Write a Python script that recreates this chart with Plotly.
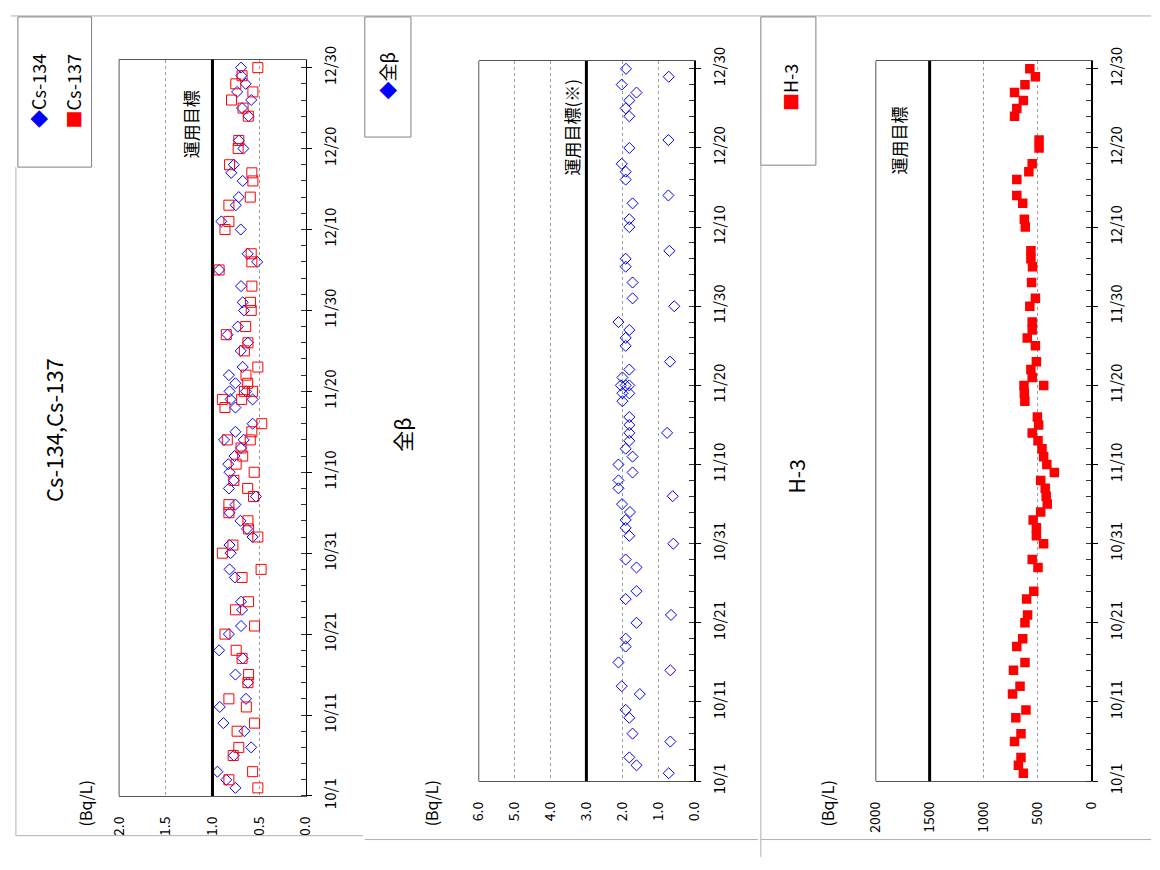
import plotly.graph_objects as go

# ---------------- data ----------------
cs_dates = ["10/02","10/03","10/04","10/06","10/07","10/09","10/10","10/12","10/13","10/15",
            "10/16","10/18","10/19","10/21","10/22","10/24","10/25","10/28","10/29","10/31",
            "11/01","11/02","11/03","11/04","11/05","11/06","11/07","11/08","11/09","11/10",
            "11/11","11/12","11/13","11/14","11/14","11/15","11/16","11/18","11/19","11/19",
            "11/20","11/20","11/21","11/22","11/23","11/25","11/26","11/27","11/28","11/30",
            "12/01","12/03","12/05","12/06","12/07","12/10","12/11","12/13","12/14","12/16",
            "12/17","12/18","12/20","12/21","12/24","12/25","12/26","12/27","12/28","12/29","12/30"]
cs134 = [0.754,0.852,0.947,0.771,0.585,0.658,0.883,0.922,0.641,0.620,
         0.754,0.676,0.929,0.824,0.694,0.683,0.694,0.760,0.817,0.806,
         0.817,0.570,0.630,0.700,0.817,0.754,0.535,0.824,0.771,0.817,
         0.831,0.764,0.694,0.876,0.665,0.754,0.570,0.754,0.806,0.570,
         0.817,0.641,0.754,0.824,0.676,0.697,0.620,0.838,0.729,0.662,
         0.676,0.694,0.929,0.521,0.623,0.697,0.905,0.750,0.718,0.676,
         0.799,0.771,0.669,0.718,0.613,0.683,0.585,0.736,0.644,0.690,0.694]
cs137 = [0.514,0.824,0.570,0.778,0.718,0.736,0.549,0.637,0.824,0.620,
         0.613,0.683,0.746,0.866,0.549,0.754,0.613,0.683,0.479,0.894,
         0.781,0.514,0.613,0.620,0.824,0.824,0.560,0.623,0.771,0.553,
         0.746,0.676,0.694,0.841,0.595,0.578,0.472,0.866,0.894,0.687,
         0.658,0.570,0.623,0.641,0.514,0.658,0.620,0.852,0.644,0.585,
         0.592,0.578,0.929,0.578,0.585,0.866,0.824,0.824,0.595,0.567,
         0.578,0.817,0.725,0.718,0.616,0.672,0.796,0.567,0.750,0.683,0.514]

beta_dates = ["10/02","10/03","10/04","10/06","10/07","10/09","10/10","10/12","10/13","10/15",
              "10/16","10/18","10/19","10/21","10/22","10/24","10/25","10/28","10/29","10/31",
              "11/01","11/02","11/03","11/04","11/05","11/06","11/07","11/08","11/09","11/10",
              "11/11","11/12","11/13","11/14","11/14","11/15","11/16","11/18","11/19","11/19",
              "11/20","11/20","11/20","11/21","11/22","11/23","11/25","11/26","11/27","11/28",
              "11/30","12/01","12/03","12/05","12/06","12/07","12/10","12/11","12/13","12/14",
              "12/16","12/17","12/18","12/20","12/21","12/24","12/25","12/26","12/27","12/28",
              "12/29","12/30"]
beta = [0.705,1.603,1.804,0.660,1.713,1.804,1.905,1.511,2.015,0.660,
        2.106,1.905,1.905,1.603,0.641,1.905,1.603,1.603,1.905,0.577,
        1.804,1.905,1.905,1.786,2.006,0.595,2.106,2.106,1.713,2.106,
        1.713,1.905,1.804,1.804,0.751,1.804,1.804,1.996,1.996,1.804,
        2.040,1.905,1.804,1.996,1.804,0.669,1.905,1.905,1.804,2.106,
        0.550,1.713,1.713,1.905,1.905,0.687,1.804,1.804,1.713,0.714,
        1.905,1.905,2.015,1.804,0.714,1.804,1.905,1.804,1.603,2.015,
        0.705,1.896]

h3_dates = ["10/02","10/03","10/04","10/06","10/07","10/09","10/10","10/12","10/13","10/15",
            "10/16","10/18","10/19","10/21","10/22","10/24","10/25","10/28","10/29","10/31",
            "11/01","11/02","11/03","11/04","11/05","11/06","11/07","11/08","11/09","11/10",
            "11/11","11/12","11/13","11/14","11/15","11/16","11/18","11/19","11/20","11/20",
            "11/21","11/22","11/23","11/25","11/26","11/27","11/28","11/30","12/01","12/03",
            "12/05","12/06","12/07","12/10","12/11","12/13","12/14","12/16","12/17","12/18",
            "12/20","12/21","12/24","12/25","12/26","12/27","12/28","12/29","12/30"]
h3 = [629,675,651,711,651,699,605,730,660,721,
      614,690,635,614,590,599,532,493,547,441,
      508,508,538,468,407,417,426,468,341,411,
      441,456,493,547,487,499,615,620,623,440,
      547,559,508,517,593,547,547,569,517,553,
      544,559,559,611,620,635,690,690,578,547,
      483,483,711,690,629,711,614,517,569]

date_ticks = ["10/1","10/11","10/21","10/31","11/10","11/20","11/30","12/10","12/20","12/30"]
cs_ticks = [0.0, 0.5, 1.0, 1.5, 2.0]
beta_ticks = [0.0, 1.0, 2.0, 3.0, 4.0, 5.0, 6.0]
h3_ticks = [0, 500, 1000, 1500, 2000]
targets = [1.0, 3.0, 1500]

YEAR = "2024"
def iso(md):
    m, d = md.split("/")
    return f"{YEAR}-{int(m):02d}-{int(d):02d}"

W, H = 1160, 870
def px(x): return x / W
def py(y): return 1 - y / H

FONT = "Noto Sans CJK JP"
fig = go.Figure()

fig.add_trace(go.Scatter(x=cs134, y=[iso(d) for d in cs_dates], mode="markers", name="Cs-134",
                         marker=dict(symbol="diamond-open", size=8.5, color="#0000FF", line=dict(width=1)),
                         xaxis="x", yaxis="y"))
fig.add_trace(go.Scatter(x=cs137, y=[iso(d) for d in cs_dates], mode="markers", name="Cs-137",
                         marker=dict(symbol="square-open", size=10, color="#FF0000", line=dict(width=1)),
                         xaxis="x", yaxis="y"))
fig.add_trace(go.Scatter(x=beta, y=[iso(d) for d in beta_dates], mode="markers", name="全β",
                         marker=dict(symbol="diamond-open", size=8.5, color="#0000FF", line=dict(width=1)),
                         xaxis="x2", yaxis="y2"))
fig.add_trace(go.Scatter(x=h3, y=[iso(d) for d in h3_dates], mode="markers", name="H-3",
                         marker=dict(symbol="square", size=9.5, color="#FF0000", line=dict(width=0)),
                         xaxis="x3", yaxis="y3"))

panels = [
    # (left, right, top, bottom, ticks, fmt)
    (110, 300, 47, 807, cs_ticks, lambda v: f"{v:.1f}"),
    (476, 695, 48.4, 791.7, beta_ticks, lambda v: f"{v:.1f}"),
    (880, 1099, 48.4, 791.7, h3_ticks, lambda v: f"{v:d}"),
]
tickvals_dates = [iso(d) for d in date_ticks]
layout_axes = {}
for i, (l, r, t, b, ticks, fmt) in enumerate(panels):
    sfx = "" if i == 0 else str(i + 1)
    layout_axes["xaxis" + sfx] = dict(
        domain=[px(l), px(r)], anchor="y" + sfx, range=[ticks[-1], ticks[0]],
        tickvals=ticks, ticktext=[fmt(v) for v in ticks], tickangle=-90,
        showgrid=True, gridcolor="#9a9a9a", griddash="dot", gridwidth=1,
        zeroline=False, showline=True, linecolor="#555555", linewidth=1, mirror=True,
        ticks="", ticklabelstandoff=14, tickfont=dict(family=FONT, size=14, color="black"),
        fixedrange=True)
    layout_axes["yaxis" + sfx] = dict(
        domain=[py(b), py(t)], anchor="x" + sfx, side="right", type="date",
        range=[iso("10/1"), iso("12/31")], tickvals=tickvals_dates, ticktext=date_ticks,
        tickangle=-90, ticks="outside", ticklen=5, tickcolor="black", tickwidth=1,
        minor=dict(ticks="inside", ticklen=5, tickcolor="#333333", dtick=2 * 86400000,
                   tick0=iso("10/1"), showgrid=False),
        showgrid=False, zeroline=False, showline=True, linecolor="black", linewidth=1.5,
        ticklabelstandoff=6, tickfont=dict(family=FONT, size=15, color="black"),
        fixedrange=True)

shapes = []
for i, tv in enumerate(targets):
    sfx = "" if i == 0 else str(i + 1)
    shapes.append(dict(type="line", xref="x" + sfx, yref="y" + sfx + " domain", x0=tv, x1=tv,
                       y0=0, y1=1, line=dict(color="black", width=3)))
    l, r, t, b, _, _ = panels[i]
    shapes.append(dict(type="line", xref="paper", yref="paper", x0=px(l), x1=px(l),
                       y0=py(b), y1=py(t), line=dict(color="#555555", width=1)))

# frame lines
frame = [((0, 2), (1160, 2)), ((5, 158), (5, 848)), ((5, 848), (358, 848)),
         ((360, 852), (760, 852)), ((763, 156), (763, 870)), ((763, 852), (1160, 852))]
for (x0, y0), (x1, y1) in frame:
    shapes.append(dict(type="line", xref="paper", yref="paper", x0=px(x0), y0=py(y0),
                       x1=px(x1), y1=py(y1), line=dict(color="#b0b0b0", width=1)))
# legend boxes
for (x0, y0, x1, y1) in [(7, 3, 82, 158), (360, 3, 407, 127), (763, 3, 819, 156)]:
    shapes.append(dict(type="rect", xref="paper", yref="paper", x0=px(x0), y0=py(y1),
                       x1=px(x1), y1=py(y0), line=dict(color="#808080", width=1),
                       fillcolor="white"))

def rot(text, x, y, size, color="black"):
    return dict(text=text, x=px(x), y=py(y), xref="paper", yref="paper", showarrow=False,
                textangle=-90, xanchor="center", yanchor="middle",
                font=dict(family=FONT, size=size, color=color))

annotations = [
    rot("Cs-134,Cs-137", 42, 429, 22),
    rot("全β", 397, 434, 21),
    rot("H-3", 799, 477, 21),
    rot("運用目標", 183, 114, 17),
    rot("運用目標(※)", 570, 117, 17),
    rot("運用目標", 904, 130, 17),
    rot("(Bq/L)", 75, 815, 16),
    rot("(Bq/L)", 427, 815, 16),
    rot("(Bq/L)", 830, 815, 16),
    rot('<span style="color:#0000FF">◆</span>Cs-134', 27, 80, 18),
    rot('<span style="color:#FF0000">■</span>Cs-137', 63, 80, 18),
    rot('<span style="color:#0000FF">◆</span>全β', 383, 64, 18),
    rot('<span style="color:#FF0000">■</span>H-3', 792, 76, 18),
]

fig.update_layout(
    width=W, height=H, margin=dict(l=0, r=0, t=0, b=0),
    paper_bgcolor="white", plot_bgcolor="white", showlegend=False,
    shapes=shapes, annotations=annotations, **layout_axes)

fig.write_html("out.html", config={"displayModeBar": False, "staticPlot": True},
               post_script="document.body.style.margin='0';document.body.style.overflow='hidden';")
